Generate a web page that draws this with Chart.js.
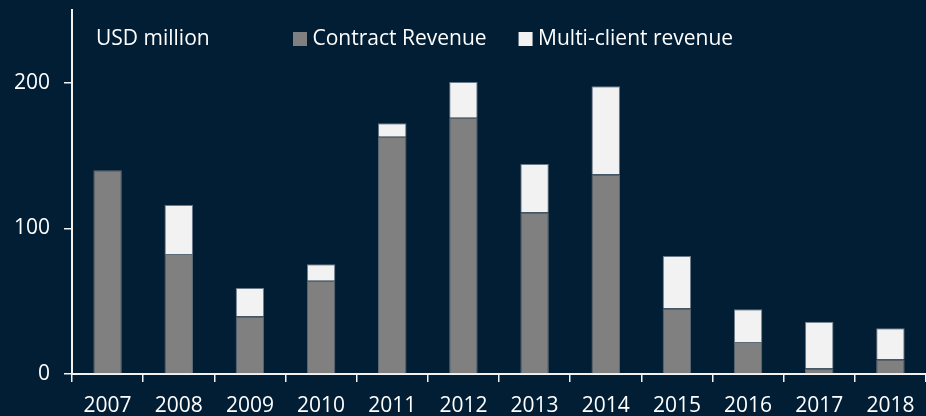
<!DOCTYPE html>
<html>
<head>
<meta charset="utf-8">
<script src="https://cdn.jsdelivr.net/npm/chart.js@4/dist/chart.umd.min.js"></script>
<style>
  html, body { margin: 0; padding: 0; background: #011e34; overflow: hidden; }
  canvas { display: block; }
</style>
</head>
<body>
<canvas id="c" width="926" height="416" style="width:926px;height:416px"></canvas>
<script>
const years = ['2007','2008','2009','2010','2011','2012','2013','2014','2015','2016','2017','2018'];
const contractRevenue = [140, 82.5, 39.5, 64, 163, 176, 111, 137, 45, 22, 3.8, 10];
const multiClientRevenue = [0, 33.5, 19.5, 11.3, 9.2, 24.5, 33.2, 60.7, 36, 22.4, 32.1, 21.5];
const yTickValues = [0, 100, 200];
const unitLabel = 'USD million';

const FONT = "'Open Sans', 'DejaVu Sans', sans-serif";
const WHITE = '#f2f2f2';

const overlay = {
  id: 'overlay',
  afterDraw(chart) {
    const ctx = chart.ctx;
    ctx.save();
    ctx.fillStyle = '#ffffff';
    ctx.textBaseline = 'middle';
    ctx.font = '21px ' + FONT;
    ctx.fillText(unitLabel, 96, 39);
    let x = 293;
    chart.data.datasets.forEach((ds, i) => {
      ctx.fillStyle = ds.backgroundColor;
      ctx.fillRect(x, 32, 14, 14);
      ctx.fillStyle = '#ffffff';
      ctx.fillText(ds.label, x + 19.5, 39);
      x += 19.5 + ctx.measureText(ds.label).width + 32;
    });
    ctx.restore();
  }
};

new Chart(document.getElementById('c'), {
  type: 'bar',
  data: {
    labels: years,
    datasets: [
      { label: 'Contract Revenue', data: contractRevenue, backgroundColor: '#808080',
        borderColor: '#5d6b78', borderWidth: 1, barPercentage: 0.4, categoryPercentage: 1 },
      { label: 'Multi-client revenue', data: multiClientRevenue, backgroundColor: '#f2f2f2',
        borderColor: '#6b7a88', borderWidth: 1, barPercentage: 0.4, categoryPercentage: 1 }
    ]
  },
  options: {
    responsive: false,
    animation: false,
    devicePixelRatio: 1,
    layout: { padding: { top: 10, right: 0, left: 0, bottom: 0 } },
    plugins: { legend: { display: false }, tooltip: { enabled: false } },
    scales: {
      x: {
        stacked: true,
        offset: true,
        grid: { display: true, drawOnChartArea: false, drawTicks: true, tickLength: 8, color: WHITE, lineWidth: 1.5, offset: true },
        border: { display: true, color: WHITE, width: 2 },
        ticks: { color: '#ffffff', font: { family: FONT, size: 21 }, padding: 11, maxRotation: 0 },
        afterFit(s) { s.height = 42; s.paddingLeft = 0; s.paddingRight = 0; }
      },
      y: {
        stacked: true,
        min: 0, max: 250,
        grid: { display: true, drawOnChartArea: false, drawTicks: true, tickLength: 8, color: WHITE, lineWidth: 1.5 },
        border: { display: true, color: WHITE, width: 2 },
        ticks: { stepSize: 100, color: '#ffffff', font: { family: FONT, size: 21 }, padding: 14 },
        afterBuildTicks(s) { s.ticks = yTickValues.map(v => ({ value: v })); },
        afterFit(s) { s.width = 72; s.paddingTop = 0; s.paddingBottom = 0; }
      }
    }
  },
  plugins: [overlay]
});
</script>
</body>
</html>
